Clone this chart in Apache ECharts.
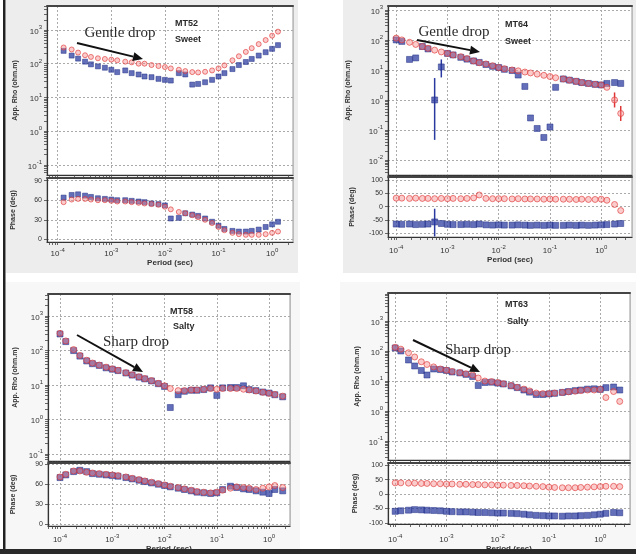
<!DOCTYPE html>
<html><head><meta charset="utf-8">
<script src="https://cdn.jsdelivr.net/npm/echarts@6/dist/echarts.min.js"></script>
<style>html,body{margin:0;padding:0;background:#fff}#c{width:636px;height:554px}</style>
</head><body><div id="c"></div>
<script>
// ---------- DATA (log10 of period in s, log10 of apparent resistivity in ohm.m, phase in deg) ----------
const logPeriod = [-4.00,-3.89,-3.74,-3.62,-3.49,-3.38,-3.25,-3.12,-3.00,-2.89,-2.74,-2.62,-2.49,-2.38,-2.25,-2.12,-2.00,-1.89,-1.74,-1.62,-1.49,-1.38,-1.25,-1.12,-1.00,-0.89,-0.74,-0.62,-0.49,-0.38,-0.25,-0.12,0.00,0.11,0.26,0.38];

const stationNames = ['MT52','MT64','MT58','MT63'];
const stationTypes = ['Sweet','Sweet','Salty','Salty'];
const dropLabels = ['Gentle drop','Gentle drop','Sharp drop','Sharp drop'];

// MT52
const p1Period = logPeriod.slice(1, 34);
const p1RhoRed = [2.48,2.42,2.33,2.25,2.20,2.16,2.14,2.12,2.10,2.06,2.04,2.00,2.00,1.96,1.93,1.90,1.86,1.82,1.78,1.75,1.74,1.76,1.80,1.86,1.95,2.10,2.22,2.35,2.46,2.58,2.70,2.83,2.95];
const p1RhoBlue = [2.38,2.24,2.15,2.06,1.98,1.92,1.88,1.82,1.75,1.80,1.72,1.68,1.62,1.60,1.55,1.52,1.50,1.72,1.68,1.38,1.40,1.45,1.52,1.62,1.72,1.84,1.96,2.05,2.14,2.24,2.34,2.44,2.55];
const p1PhaseRed = [57,61,62,62,61,60,60,59,58,58,57,56,55,54,53,50,46,42,40,37,34,30,25,19,14,10,8,7,7,7,8,10,12];
const p1PhaseBlue = [64,68,69,67,65,63,62,61,60,60,59,58,57,55,54,52,32,33,40,38,36,32,27,21,16,13,12,12,13,15,19,23,27];

// MT64
const p2Period = logPeriod.slice(0, 36);
const p2RhoRed = [2.06,2.00,1.92,1.85,1.78,1.72,1.66,1.60,1.55,1.50,1.44,1.38,1.30,1.24,1.20,1.14,1.08,1.04,1.00,0.97,0.93,0.90,0.86,0.82,0.78,0.74,0.70,0.66,0.62,0.58,0.55,0.52,0.50,0.42,0.00,-0.45];
const p2RhoBlue = [2.00,1.95,1.35,1.40,1.78,1.70,0.00,1.10,1.55,1.50,1.42,1.36,1.30,1.25,1.18,1.12,1.08,1.02,0.98,0.83,0.45,-0.60,-0.95,-1.25,-0.90,0.42,0.70,0.66,0.62,0.58,0.55,0.52,0.50,0.55,0.58,0.55];
const p2PhaseRed = [32,32,31,32,31,31,30,31,30,31,30,31,33,44,31,30,30,30,29,30,29,29,29,28,29,28,28,28,27,28,27,27,28,24,8,-15];
const p2PhaseBlue = [-66,-67,-66,-68,-67,-66,-58,-64,-67,-68,-68,-67,-68,-66,-69,-70,-69,-70,-70,-69,-70,-71,-70,-71,-70,-71,-71,-70,-71,-70,-71,-70,-69,-68,-66,-64];
// MT64 error bars (blue outliers / red tail)
const p2ErrPeriod = [-3.25,-3.12,0.26,0.38];
const p2ErrLow = [-1.33,0.75,-0.25,-0.7];
const p2ErrHigh = [0.73,1.35,0.25,-0.2];
const p2PhErrPeriod = [-3.25];
const p2PhErrLow = [-113];
const p2PhErrHigh = [-8];

// MT58
const p3Period = logPeriod.slice(0, 35);
const p3RhoRed = [2.50,2.28,2.03,1.86,1.72,1.64,1.58,1.52,1.47,1.43,1.36,1.30,1.24,1.19,1.13,1.05,0.98,0.90,0.84,0.84,0.86,0.86,0.88,0.90,0.88,0.90,0.90,0.90,0.88,0.86,0.83,0.79,0.76,0.73,0.68];
const p3RhoBlue = [2.48,2.26,2.00,1.84,1.70,1.62,1.57,1.50,1.46,1.42,1.35,1.29,1.23,1.18,1.12,1.04,0.96,0.35,0.72,0.82,0.85,0.85,0.87,0.92,0.70,0.92,0.93,0.93,0.98,0.87,0.84,0.80,0.77,0.72,0.66];
const p3PhaseRed = [71,75,80,80,78,77,76,75,74,73,71,69,67,65,63,61,59,57,55,53,51,49,48,47,48,51,54,56,55,54,52,54,56,58,55];
const p3PhaseBlue = [70,74,79,81,79,76,75,74,73,72,70,68,66,64,62,60,58,56,54,52,50,48,47,46,47,52,57,55,53,52,50,48,46,52,50];

// MT63
const p4Period = logPeriod.slice(0, 36);
const p4RhoRed = [2.12,2.06,1.94,1.80,1.64,1.55,1.47,1.40,1.36,1.32,1.28,1.24,1.20,1.10,1.00,0.98,0.95,0.91,0.85,0.79,0.73,0.67,0.60,0.58,0.58,0.60,0.62,0.64,0.66,0.68,0.70,0.70,0.72,0.45,0.65,0.32];
const p4RhoBlue = [2.10,2.00,1.70,1.50,1.35,1.20,1.40,1.38,1.35,1.30,1.27,1.22,1.15,0.85,0.95,0.96,0.93,0.90,0.84,0.78,0.70,0.63,0.55,0.55,0.57,0.59,0.62,0.65,0.68,0.70,0.73,0.74,0.72,0.78,0.80,0.70];
const p4PhaseRed = [39,39,38,38,37,37,36,36,35,35,34,34,33,33,32,32,31,31,30,30,29,28,27,26,24,23,22,22,22,23,24,25,26,27,27,26];
const p4PhaseBlue = [-60,-58,-56,-54,-55,-56,-57,-58,-60,-61,-62,-62,-63,-64,-64,-65,-66,-66,-67,-68,-70,-72,-74,-75,-76,-76,-77,-76,-76,-75,-74,-72,-70,-67,-64,-65];

const decadeTicks = [-4,-3,-2,-1,0];
const phaseTicksA = [0,30,60,90];
const phaseTicksB = [-100,-50,0,50,100];

// ---------- LAYOUT ----------
const SANS = 'Liberation Sans, Arial, sans-serif';
const SERIF = 'Liberation Serif, Times New Roman, serif';
const grids = [
  {left:47, top:6, width:246, height:169, x:[-4.2,0.39], y:[-1.3,3.71], kind:'rho', yGap:28},
  {left:47, top:178, width:246, height:64, x:[-4.2,0.39], y:[-4,94], kind:'phase', ticks:phaseTicksA, yGap:30, xGap:14, lm:5},
  {left:388, top:6, width:244, height:169, x:[-4.16,0.6], y:[-2.5,3.13], kind:'rho', yGap:36},
  {left:388, top:177, width:244, height:60, x:[-4.16,0.6], y:[-115,112], kind:'phase', ticks:phaseTicksB, yGap:32, xGap:18, lm:7},
  {left:48, top:294, width:242, height:167, x:[-4.23,0.4], y:[-1.2,3.64], kind:'rho', yGap:29},
  {left:48, top:463, width:242, height:63, x:[-4.23,0.4], y:[-3,92], kind:'phase', ticks:phaseTicksA, yGap:31, xGap:17, lm:7},
  {left:388, top:293, width:242, height:167, x:[-4.14,0.58], y:[-1.63,3.93], kind:'rho', yGap:27},
  {left:388, top:463, width:242, height:61, x:[-4.14,0.58], y:[-104,108], kind:'phase', ticks:phaseTicksB, yGap:29, xGap:18, lm:9}
];

function logMinor(range){
  const out=[];
  for(let d=Math.floor(range[0]); d<=Math.ceil(range[1]); d++){
    for(let k=1;k<=9;k++){ const v=d+Math.log10(k); if(v>=range[0]&&v<=range[1]) out.push(v); }
  }
  return out;
}
function ints(range){ const o=[]; for(let d=Math.ceil(range[0]); d<=Math.floor(range[1]); d++) o.push(d); return o; }
const powRich = {
  b:{fontSize:8, fontFamily:SANS, color:'#333', verticalAlign:'bottom'},
  s:{fontSize:6, fontFamily:SANS, color:'#333', verticalAlign:'bottom', padding:[0,0,5,0]}
};
const powFmt = v => '{b|10}{s|' + Math.round(v) + '}';

const gridOpt=[], xAxes=[], yAxes=[];
grids.forEach((g,i)=>{
  const ph = g.kind==='phase';
  gridOpt.push({left:g.left, top:g.top, width:g.width, height:g.height, show:true, backgroundColor:'#ffffff', borderColor:'#999', borderWidth:1});
  xAxes.push({gridIndex:i, type:'value', min:g.x[0], max:g.x[1], position:'bottom',
    axisLine:{show:true, onZero:false, lineStyle:{color:'#333', width:1.2}},
    axisTick:{show:true, inside:false, length:3, customValues:logMinor(g.x), lineStyle:{color:'#444', width:0.8}},
    axisLabel:{show:ph, customValues:decadeTicks, formatter:powFmt, rich:powRich, margin:g.lm||5},
    splitLine:{show:false},
    name: ph ? 'Period (sec)' : '', nameLocation:'middle', nameGap:g.xGap||10,
    nameTextStyle:{fontSize:8, fontFamily:SANS, color:'#333', fontWeight:'bold'}
  });
  xAxes.push({gridIndex:i, type:'value', min:g.x[0], max:g.x[1], position:'top',
    axisLine:{show:true, onZero:false, lineStyle:{color:'#444', width:2}},
    axisTick:{show:false, customValues:decadeTicks}, axisLabel:{show:false},
    splitLine:{show:true, lineStyle:{color:'#aaa', type:[2,2], width:1}}
  });
  const yMaj = ph ? g.ticks : ints(g.y);
  yAxes.push({gridIndex:i, type:'value', min:g.y[0], max:g.y[1], position:'left',
    axisLine:{show:true, onZero:false, lineStyle:{color:'#333', width:1.2}},
    axisTick:{show:true, inside:false, length:3, customValues: ph ? g.ticks : logMinor(g.y), lineStyle:{color:'#444', width:0.8}},
    axisLabel: ph ? {show:true, customValues:g.ticks, fontSize:7, fontFamily:SANS, color:'#333', margin:5}
                  : {show:true, customValues:yMaj, formatter:powFmt, rich:powRich, margin:5},
    splitLine:{show:false},
    name: ph ? 'Phase (deg)' : 'App. Rho (ohm.m)', nameLocation:'middle', nameGap:g.yGap,
    nameTextStyle:{fontSize:7, fontFamily:SANS, color:'#333', fontWeight:'bold'}
  });
  yAxes.push({gridIndex:i, type:'value', min:g.y[0], max:g.y[1], position:'right',
    axisLine:{show:true, onZero:false, lineStyle:{color:'#bbb', width:1}},
    axisTick:{show:false, customValues:yMaj}, axisLabel:{show:false},
    splitLine:{show:true, lineStyle:{color:'#aaa', type:[2,2], width:1}}
  });
});

const BLUE = {color:'rgba(40,55,160,0.9)', borderColor:'#1c2a80', borderWidth:0.6};
const RED = {color:'rgba(245,140,140,0.55)', borderColor:'#e03535', borderWidth:0.8};
const pairs = (xs, ys) => xs.map((x,k)=>[x, ys[k]]);
const series=[];
function sc(gi, xs, ys, style, size, sym){
  series.push({type:'scatter', xAxisIndex:2*gi, yAxisIndex:2*gi, data:pairs(xs,ys), symbol:sym, symbolSize:size, itemStyle:style, silent:true, z:3});
}
function err(gi, xs, lo, hi, color){
  series.push({type:'custom', xAxisIndex:2*gi, yAxisIndex:2*gi, silent:true, z:2,
    data: xs.map((x,k)=>[x, lo[k], hi[k]]), encode:{x:0, y:[1,2]},
    renderItem:(p,api)=>{ const a=api.coord([api.value(0),api.value(1)]), b=api.coord([api.value(0),api.value(2)]);
      return {type:'line', shape:{x1:a[0],y1:a[1],x2:b[0],y2:b[1]}, style:{stroke:color, lineWidth:1.5}}; }
  });
}
const panelData = [
  [p1Period, p1RhoRed, p1RhoBlue, p1PhaseRed, p1PhaseBlue, 5],
  [p2Period, p2RhoRed, p2RhoBlue, p2PhaseRed, p2PhaseBlue, 6],
  [p3Period, p3RhoRed, p3RhoBlue, p3PhaseRed, p3PhaseBlue, 6],
  [p4Period, p4RhoRed, p4RhoBlue, p4PhaseRed, p4PhaseBlue, 6]
];
err(2, p2ErrPeriod.slice(0,2), p2ErrLow.slice(0,2), p2ErrHigh.slice(0,2), '#2a3aa0');
err(2, p2ErrPeriod.slice(2), p2ErrLow.slice(2), p2ErrHigh.slice(2), '#e03535');
err(3, p2PhErrPeriod, p2PhErrLow, p2PhErrHigh, '#2a3aa0');
panelData.forEach((d,p)=>{
  const gR=2*p, gP=2*p+1, s=d[5];
  sc(gR, d[0], d[2], BLUE, s, 'rect');
  sc(gR, d[0], d[1], RED, s, 'circle');
  sc(gP, d[0], d[4], BLUE, s, 'rect');
  sc(gP, d[0], d[3], RED, s, 'circle');
});

// ---------- ANNOTATIONS ----------
function arrow(x1,y1,x2,y2){
  const L=Math.hypot(x2-x1,y2-y1), ux=(x2-x1)/L, uy=(y2-y1)/L, bx=x2-10*ux, by=y2-10*uy, px=-uy, py=ux;
  return [
    {type:'line', z:100, shape:{x1:x1,y1:y1,x2:bx,y2:by}, style:{stroke:'#111', lineWidth:2}},
    {type:'polygon', z:100, shape:{points:[[x2,y2],[bx+4.5*px,by+4.5*py],[bx-4.5*px,by-4.5*py]]}, style:{fill:'#111'}}
  ];
}
function txt(t,x,y,font,align){ return {type:'text', z:100, x:x, y:y, style:{text:t, font:font, fill:'#2a2a2a', align:align||'left', verticalAlign:'middle'}}; }
const ann = [
  {drop:[120,33], name:[175,24], type:[175,40], arr:[77,43,143,59]},
  {drop:[454,32], name:[505,25], type:[505,42], arr:[417,40,480,52]},
  {drop:[136,342], name:[170,312], type:[173,327], arr:[77,335,143,372]},
  {drop:[478,350], name:[505,305], type:[507,322], arr:[413,340,480,372]}
];
const graphic = [
  {type:'rect', z:-10, shape:{x:6,y:0,width:292,height:273}, style:{fill:'#ededed'}},
  {type:'rect', z:-10, shape:{x:343,y:0,width:293,height:273}, style:{fill:'#ededed'}},
  {type:'rect', z:-10, shape:{x:6,y:282,width:294,height:267}, style:{fill:'#f7f7f7'}},
  {type:'rect', z:-10, shape:{x:340,y:282,width:296,height:267}, style:{fill:'#f7f7f7'}},
  {type:'rect', z:50, shape:{x:3,y:0,width:2.5,height:554}, style:{fill:'#222'}},
  {type:'rect', z:50, shape:{x:0,y:549,width:636,height:5}, style:{fill:'#2a2a2a'}}
];
ann.forEach((a,p)=>{
  graphic.push(txt(dropLabels[p], a.drop[0], a.drop[1], '15px '+SERIF, 'center'));
  graphic.push(txt(stationNames[p], a.name[0], a.name[1], 'bold 9px '+SANS));
  graphic.push(txt(stationTypes[p], a.type[0], a.type[1], 'bold 9px '+SANS));
  graphic.push(...arrow(...a.arr));
});

const chart = echarts.init(document.getElementById('c'), null, {renderer:'canvas'});
chart.setOption({animation:false, backgroundColor:'#ffffff', grid:gridOpt, xAxis:xAxes, yAxis:yAxes, series:series, graphic:graphic});
</script></body></html>
